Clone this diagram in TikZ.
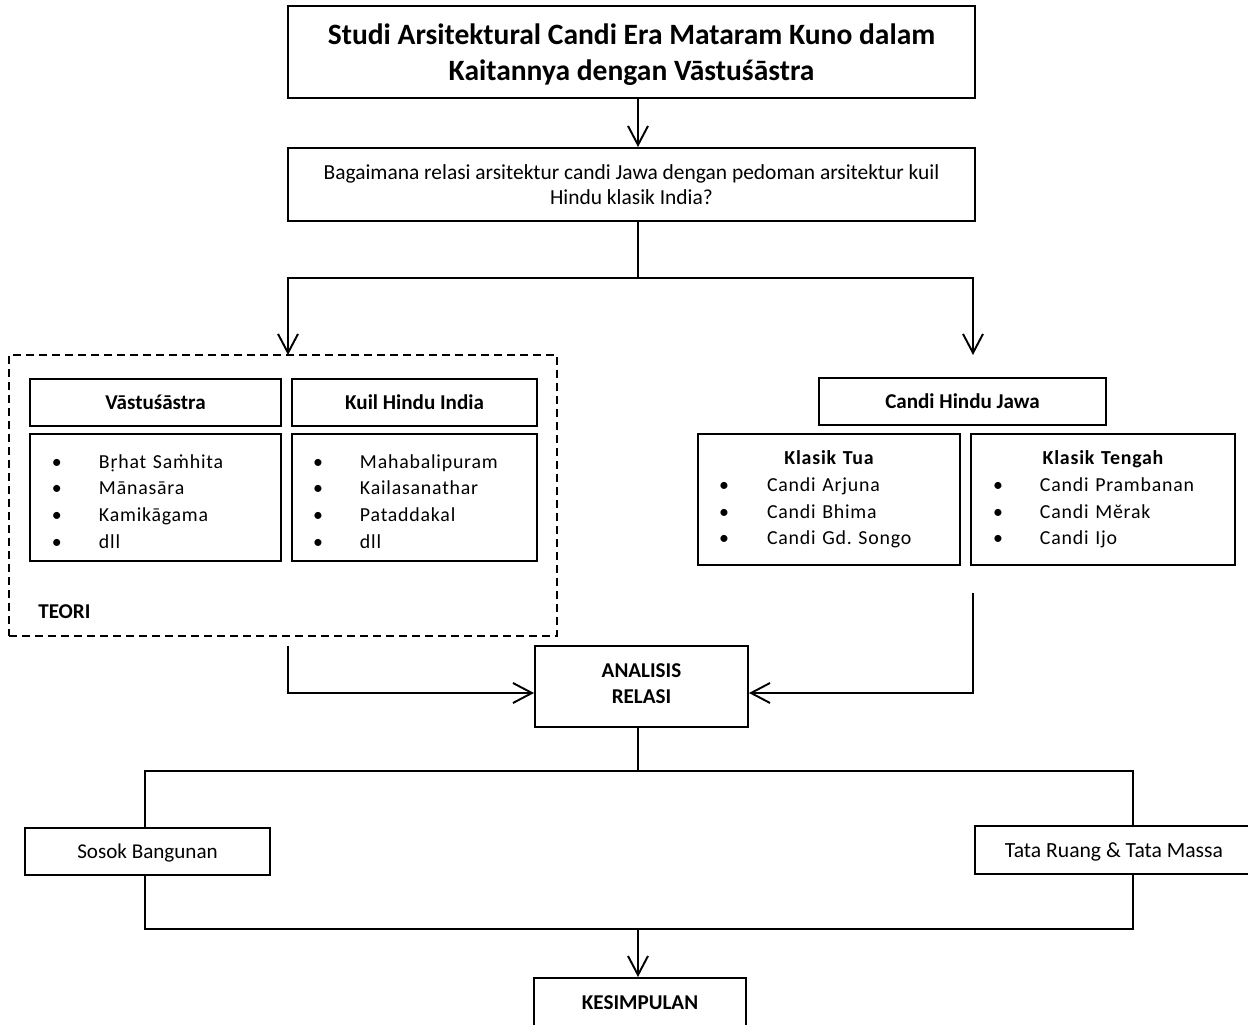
\documentclass[tikz,border=0pt]{standalone}
\usepackage{fontspec}
\setmainfont{Carlito}
\newfontfamily\listfont[LetterSpace=4]{Carlito}
\usetikzlibrary{arrows.meta}
\definecolor{ink}{RGB}{0,0,0}
\definecolor{bevel}{RGB}{120,120,120}

\begin{document}
\begin{tikzpicture}[x=0.2mm, y=-0.2mm,
  box/.style={draw=ink, line width=1.1pt, align=center, inner sep=0pt, text depth=0pt},
  headbox/.style={box, font=\fontsize{12}{14.7}\selectfont\bfseries},
  listbox/.style={draw=ink, line width=0.7pt, align=left, inner ysep=0pt,
    font=\listfont\fontsize{11.3}{15.2}\selectfont,
    append after command={[draw=bevel, line width=1pt]
      ([shift={(0.85pt,-0.85pt)}]\tikzlastnode.north west) rectangle
      ([shift={(-0.85pt,0.85pt)}]\tikzlastnode.south east)}},
  link/.style={ink, line width=1.1pt},
  flow/.style={link, -{Straight Barb[length=3.8mm, width=4mm]}}]
\useasboundingbox (0,0) rectangle (1248,1025);

% ---- title and research question ----
\node[box, minimum width=137.4mm, minimum height=18.4mm,
  font=\fontsize{16.8}{20.4}\selectfont\bfseries] (title) at (631.5,52)
  {Studi Arsitektural Candi Era Mataram Kuno dalam\\Kaitannya dengan Vāstuśāstra};
\node[box, minimum width=137.4mm, minimum height=14.6mm,
  font=\fontsize{12.2}{14.7}\selectfont] (question) at (631.5,184.5)
  {Bagaimana relasi arsitektur candi Jawa dengan pedoman arsitektur kuil\\Hindu klasik India?};

% ---- theory block (dashed) ----
\node[draw=ink, line width=0.9pt, dash pattern=on 1.6mm off 1mm,
  minimum width=109.6mm, minimum height=56.2mm] (teori) at (283,495.5) {};
\node[anchor=west, inner sep=0pt, font=\fontsize{12}{14.7}\selectfont\bfseries] (teorilabel) at (38,612) {TEORI};

\node[headbox, minimum width=50.2mm, minimum height=9.4mm] (vastu) at (155.5,402.5) {Vāstuśāstra};
\node[headbox, minimum width=49mm, minimum height=9.4mm] (kuil) at (414.5,402.5) {Kuil Hindu India};
\node[listbox, text width=41.4mm, inner xsep=4.4mm, minimum height=25.4mm, text depth=41.1pt] (vastulist) at (155.5,497.5)
  {\makebox[9.4mm][l]{•}Bṛhat Saṁhita\\ \makebox[9.4mm][l]{•}Mānasāra\\
   \makebox[9.4mm][l]{•}Kamikāgama\\ \makebox[9.4mm][l]{•}dll};
\node[listbox, text width=40.6mm, inner xsep=4.2mm, minimum height=25.4mm, text depth=41.1pt] (kuillist) at (414.5,497.5)
  {\makebox[9.4mm][l]{•}Mahabalipuram\\ \makebox[9.4mm][l]{•}Kailasanathar\\
   \makebox[9.4mm][l]{•}Pataddakal\\ \makebox[9.4mm][l]{•}dll};

% ---- Javanese temples ----
\node[headbox, minimum width=57.4mm, minimum height=9.4mm] (candi) at (962.5,401.5) {Candi Hindu Jawa};
\node[listbox, text width=44mm, inner xsep=4.2mm, minimum height=26.2mm] (tua) at (829,499.5)
  {\makebox[44mm]{\bfseries Klasik Tua}\\ \makebox[9.6mm][l]{•}Candi Arjuna\\
   \makebox[9.6mm][l]{•}Candi Bhima\\ \makebox[9.6mm][l]{•}Candi Gd.\ Songo};
\node[listbox, text width=44mm, inner xsep=4.4mm, minimum height=26.2mm] (tengah) at (1103,499.5)
  {\makebox[44mm]{\bfseries Klasik Tengah}\\ \makebox[9.4mm][l]{•}Candi Prambanan\\
   \makebox[9.4mm][l]{•}Candi Mĕrak\\ \makebox[9.4mm][l]{•}Candi Ijo};

% ---- analysis and results ----
\node[headbox, minimum width=42.6mm, minimum height=16.2mm, text depth=1.2mm] (analisis) at (641.5,686.5) {ANALISIS\\RELASI};
\node[box, minimum width=49mm, minimum height=9.4mm, font=\fontsize{12}{14.7}\selectfont] (sosok) at (147.5,851.5) {Sosok Bangunan};
\node[box, minimum width=55.6mm, minimum height=9.6mm, font=\fontsize{12.3}{14.7}\selectfont] (tata) at (1114,850) {Tata Ruang \& Tata Massa};
\node[headbox, minimum width=42.4mm, minimum height=10mm] (kesimpulan) at (640,1003) {KESIMPULAN};

% ---- connectors ----
\coordinate (spine) at (638,0);
\coordinate (ltop) at (288,355);
\coordinate (rtop) at (973,355);
\coordinate (lout) at (288,646);
\coordinate (rout) at (973,593);
\coordinate (inrow) at (0,693);
\coordinate (busL) at (145,771);
\coordinate (busR) at (1133,771);
\coordinate (joinL) at (145,929);
\coordinate (joinR) at (1133,929);

\draw[flow] (title.south -| spine) -- (question.north -| spine);
\draw[link] (question.south -| spine) -- ++(0,56) coordinate (fork);
\draw[flow] (fork) -| (ltop);
\draw[flow] (fork) -| (rtop);
\draw[flow] (lout) |- (analisis.west |- inrow);
\draw[flow] (rout) |- (analisis.east |- inrow);
\draw[link] (analisis.south -| spine) -- (spine |- busL);
\draw[link] (sosok.north -| busL) -- (busL) -- (busR) -- (tata.north -| busR);
\draw[link] (sosok.south -| joinL) -- (joinL) -- (joinR) -- (tata.south -| joinR);
\draw[flow] (spine |- joinL) -- (kesimpulan.north -| spine);
\end{tikzpicture}
\end{document}
